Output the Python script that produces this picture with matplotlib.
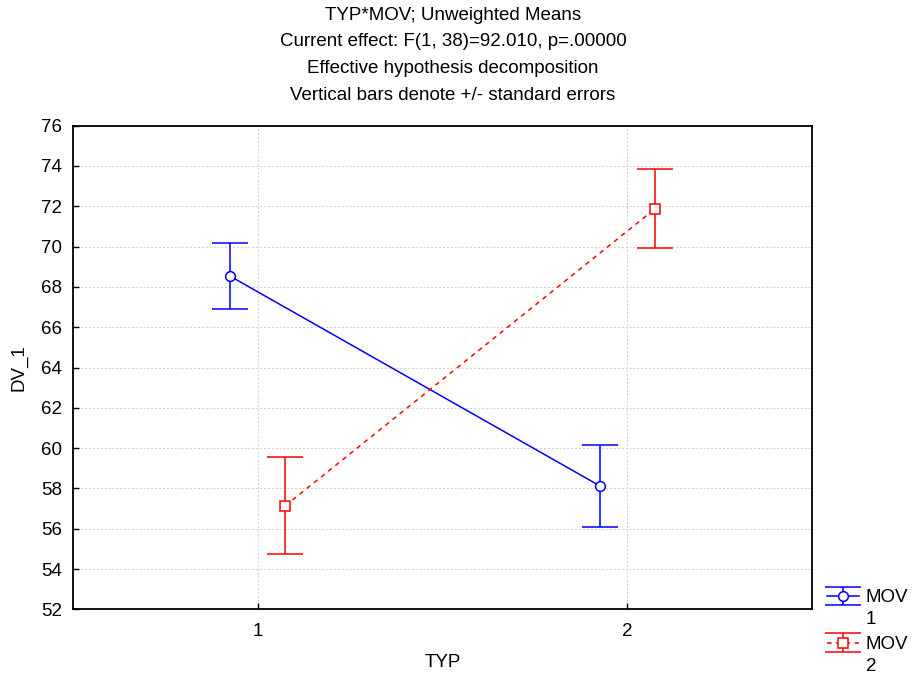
import matplotlib
matplotlib.use('Agg')
import matplotlib.pyplot as plt

plt.rcParams['font.family'] = ['Liberation Sans', 'DejaVu Sans']
plt.rcParams['font.size'] = 13.5

typ = [1, 2]
mov_levels = ['1', '2']
mov1_mean = [68.54, 58.13]
mov1_se = [1.62, 2.03]
mov2_mean = [57.14, 71.88]
mov2_se = [2.40, 1.95]
title_lines = ['TYP*MOV; Unweighted Means',
               'Current effect: F(1, 38)=92.010, p=.00000',
               'Effective hypothesis decomposition',
               'Vertical bars denote +/- standard errors']

W, H = 914, 679
fig = plt.figure(figsize=(W / 100, H / 100), dpi=100)
ax = fig.add_axes([72.7 / W, 1 - 609.3 / H, (812.3 - 72.7) / W, (609.3 - 125.7) / H])

off = 0.075
x1 = [t - off for t in typ]
x2 = [t + off for t in typ]
h1 = ax.errorbar(x1, mov1_mean, yerr=mov1_se, color='blue', lw=1.1, marker='o', ms=7,
                 mfc='white', mec='blue', mew=1.1, capsize=13, capthick=1.1, label='MOV')
h2 = ax.errorbar(x2, mov2_mean, yerr=mov2_se, color='red', lw=1.1, ls=(0, (3, 3)), marker='s', ms=6.5,
                 mfc='white', mec='red', mew=1.1, capsize=13, capthick=1.1, label='MOV')
h2[2][0].set_linestyle('-')

ax.set_xlim(0.5, 2.5)
ax.set_ylim(52, 76)
ax.set_xticks(typ)
ax.set_yticks(range(52, 77, 2))
ax.tick_params(direction='in', length=4, width=1, color='black')
ax.tick_params(axis='y', pad=7.5)
ax.tick_params(axis='x', pad=10)
ax.grid(True, color='#d0d0d0', ls=(0, (2, 2)), lw=0.7)
ax.set_axisbelow(True)
for s in ax.spines.values():
    s.set_linewidth(1.3)

ax.set_xlabel('TYP', labelpad=10)
ax.set_ylabel('DV_1', labelpad=10)

baselines = [20, 46.5, 73, 99.5]
for line, b in zip(title_lines, baselines):
    fig.text(453 / W, 1 - b / H, line, ha='center', va='baseline')

leg = fig.legend(handles=[h1, h2], loc='upper left', bbox_to_anchor=(818 / W, 1 - 580 / H),
                 frameon=False, handlelength=1.7, handletextpad=0.35, labelspacing=1.58, borderpad=0)

# second line of each legend label sits under "MOV"
fig.canvas.draw()
inv = fig.transFigure.inverted()
for t, lev in zip(leg.get_texts(), mov_levels):
    bb = t.get_window_extent()
    x0, y0 = inv.transform((bb.x0, bb.y0 - 5))
    fig.text(x0, y0, lev, ha='left', va='top')

fig.savefig('out.png', dpi=100)
